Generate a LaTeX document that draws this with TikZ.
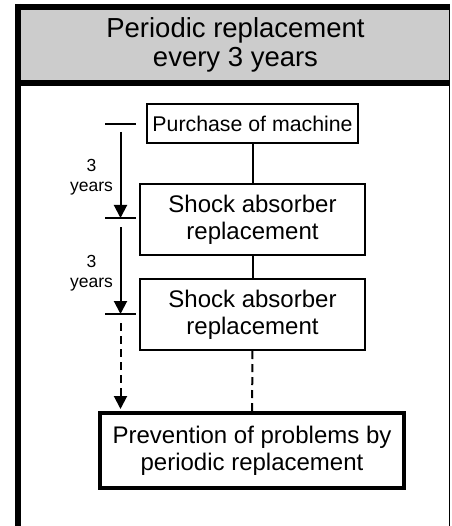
\documentclass[tikz,border=0pt]{standalone}
\usepackage{fontspec}
\setmainfont{Liberation Sans}
\usetikzlibrary{arrows.meta}
\definecolor{headgray}{RGB}{204,204,204}
\tikzset{
  box/.style={draw, line width=2pt, align=center, inner sep=0pt,
    font=\fontsize{24}{27}\selectfont},
  link/.style={line width=2pt},
  tick/.style={line width=2pt},
  period/.style={line width=2pt, -{Triangle[length=13pt,width=13pt]}},
  yrs/.style={align=center, inner sep=0pt, font=\fontsize{17.5}{20}\selectfont}
}
\begin{document}
\begin{tikzpicture}[x=1pt,y=-1pt]
      \useasboundingbox (0,0) rectangle (451,526);
      % frame and heading
      \fill[headgray] (21,10) rectangle (449,80);
      \draw[line width=6pt] (18,4) -- (18,526);
      \draw[line width=6pt] (15,7) -- (449,7);
      \draw[line width=6pt] (15,83) -- (449,83);
      \draw[line width=1.5pt] (449.5,4) -- (449.5,526);
      \node[align=center, inner sep=0pt, font=\fontsize{27.5}{28.5}\selectfont]
        (head) at (235.5,45) {Periodic replacement\\every 3 years};
      % steps
      \node[box, minimum width=211pt, minimum height=39pt, font=\fontsize{21.3}{24}\selectfont]
        (purchase) at (252.5,123.5) {Purchase of machine};
      \node[box, minimum width=225pt, minimum height=71pt]
        (shockA) at (252.5,219.5) {Shock absorber\\replacement};
      \node[box, minimum width=225pt, minimum height=71pt]
        (shockB) at (252.5,314.5) {Shock absorber\\replacement};
      \node[box, line width=3.5pt, minimum width=304pt, minimum height=75pt]
        (prevent) at (252,450.5) {Prevention of problems by\\periodic replacement};
      \begin{scope}[link]
        \draw (purchase) -- (shockA);
        \draw (shockA) -- (shockB);
        \draw[dash pattern=on 8pt off 5pt] (shockB) -- (prevent);
      \end{scope}
      % time line
      \coordinate (t0) at (120.5,124);
      \coordinate (t1) at (120.5,218);
      \coordinate (t2) at (120.5,314);
      \coordinate (t3) at (120.5,409);
      \foreach \t in {t0,t1,t2}
        \draw[tick] ([xshift=-15.5pt]\t) -- ([xshift=15.5pt]\t);
      \draw[period] ([yshift=-8pt]t0) -- (t1);
      \draw[period] ([yshift=-9pt]t1) -- (t2);
      \draw[period, dash pattern=on 8pt off 5pt] ([yshift=-9pt]t2) -- (t3);
      \node[yrs] (yrsA) at (91.5,177) {3\\years};
      \node[yrs] (yrsB) at (91.5,273) {3\\years};
    \end{tikzpicture}
\end{document}
